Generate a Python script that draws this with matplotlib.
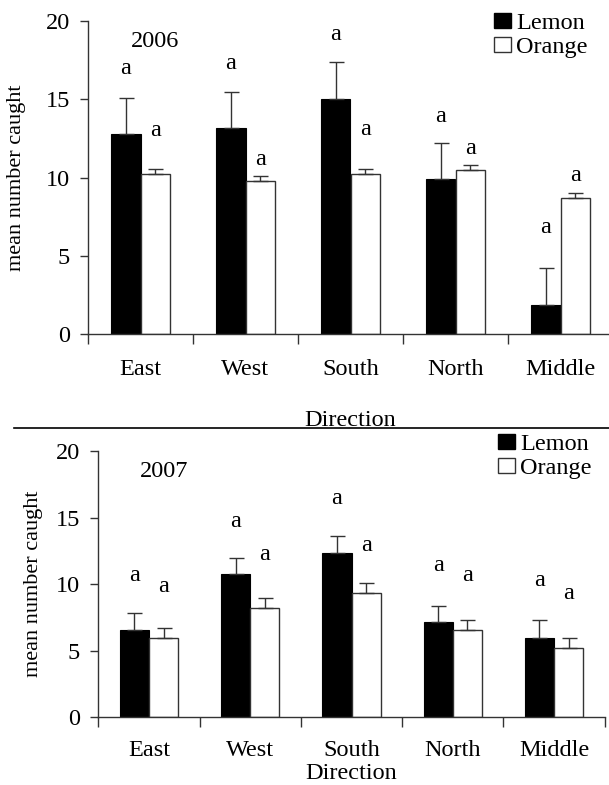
import matplotlib
matplotlib.use("Agg")
import matplotlib.pyplot as plt
import numpy as np
from matplotlib.patches import Patch
from matplotlib.lines import Line2D
from matplotlib.transforms import Bbox

plt.rcParams['font.family'] = ['Liberation Serif', 'DejaVu Serif']

directions = ["East", "West", "South", "North", "Middle"]
series = ["Lemon", "Orange"]

lemon_2006 = [12.8, 13.15, 15.0, 9.9, 1.87]
lemon_2006_err = [2.27, 2.28, 2.34, 2.3, 2.34]
orange_2006 = [10.22, 9.76, 10.22, 10.46, 8.67]
orange_2006_err = [0.3, 0.34, 0.3, 0.32, 0.32]
letters_2006_lemon = ["a", "a", "a", "a", "a"]
letters_2006_orange = ["a", "a", "a", "a", "a"]
lemon_2006_letter_y = [16.96, 17.24, 19.15, 13.92, 6.8]
orange_2006_letter_y = [13.0, 11.16, 13.03, 11.86, 10.1]

lemon_2007 = [6.59, 10.75, 12.31, 7.12, 5.99]
lemon_2007_err = [1.28, 1.2, 1.27, 1.23, 1.28]
orange_2007 = [5.99, 8.22, 9.3, 6.59, 5.21]
orange_2007_err = [0.75, 0.75, 0.75, 0.75, 0.73]
letters_2007_lemon = ["a", "a", "a", "a", "a"]
letters_2007_orange = ["a", "a", "a", "a", "a"]
lemon_2007_letter_y = [10.63, 14.69, 16.44, 11.38, 10.3]
orange_2007_letter_y = [9.8, 12.23, 12.9, 10.63, 9.3]

yticks = [0, 5, 10, 15, 20]

W, H = 609, 785
fig = plt.figure(figsize=(W / 100, H / 100), dpi=100)

FS = 17.5
EDGE = '#333333'


def px_axes(left, right, top, bottom):
    return fig.add_axes([left / W, 1 - bottom / H, (right - left) / W, (bottom - top) / H])


def panel(ax, lem, lem_e, ora, ora_e, lem_ly, ora_ly, lem_l, ora_l, year, year_x, year_y,
          bw, tick_pad, xl_y, leg_anchor):
    x = np.arange(len(directions)) + 0.5
    ax.bar(x - bw / 2, lem, bw, color='black', edgecolor='black', linewidth=0.8,
           yerr=[[0] * len(lem), lem_e], error_kw=dict(ecolor=EDGE, elinewidth=1.0, capsize=5.4, capthick=1.0),
           label=series[0], zorder=2)
    ax.bar(x + bw / 2, ora, bw, color='white', edgecolor=EDGE, linewidth=1.0,
           yerr=[[0] * len(ora), ora_e], error_kw=dict(ecolor=EDGE, elinewidth=1.0, capsize=5.4, capthick=1.0),
           label=series[1], zorder=2)
    for xi, yv, t in zip(x - bw / 2, lem_ly, lem_l):
        ax.text(xi, yv, t, ha='center', va='center', fontsize=FS)
    for xi, yv, t in zip(x + bw / 2, ora_ly, ora_l):
        ax.text(xi, yv, t, ha='center', va='center', fontsize=FS)
    ax.text(year_x, year_y, year, ha='center', va='center', fontsize=FS)

    ax.set_xlim(0, len(directions))
    ax.set_ylim(0, 20)
    ax.set_yticks(yticks)
    ax.set_yticklabels([str(v) for v in yticks], fontsize=FS)
    ax.set_xticks(x)
    ax.set_xticklabels(directions, fontsize=FS)
    ax.set_xticks(np.arange(len(directions) + 1), minor=True)
    ax.tick_params(axis='x', which='major', length=0, pad=tick_pad)
    ax.tick_params(axis='x', which='minor', length=7, width=1, direction='out', color=EDGE)
    ax.tick_params(axis='y', length=6, width=1, direction='out', color=EDGE, pad=7)
    for s in ['top', 'right']:
        ax.spines[s].set_visible(False)
    for s in ['left', 'bottom']:
        ax.spines[s].set_color(EDGE)
        ax.spines[s].set_linewidth(1.0)
    ax.set_xlabel('Direction', fontsize=FS)
    ax.xaxis.set_label_coords(0.5, xl_y)
    ax.set_ylabel('mean number caught', fontsize=16)

    handles = [Patch(facecolor='black', edgecolor='black', label=series[0]),
               Patch(facecolor='white', edgecolor=EDGE, label=series[1])]
    fig.legend(handles=handles, loc='upper left', bbox_to_anchor=leg_anchor,
               bbox_transform=fig.transFigure, frameon=False, fontsize=FS,
               handlelength=0.7, handleheight=0.56, handletextpad=0.2,
               labelspacing=0.12, borderpad=0, borderaxespad=0)
    return ax


ax1 = px_axes(88, 613, 20.7, 334.3)
panel(ax1, lemon_2006, lemon_2006_err, orange_2006, orange_2006_err,
      lemon_2006_letter_y, orange_2006_letter_y, letters_2006_lemon, letters_2006_orange,
      "2006", 0.635, 18.66, 0.2857, 17.5, -0.241, (494 / W, 1 - 13 / H))
ax1.yaxis.set_label_coords(-0.118, 0.5)

ax2 = px_axes(98.3, 604.7, 451, 717.3)
panel(ax2, lemon_2007, lemon_2007_err, orange_2007, orange_2007_err,
      lemon_2007_letter_y, orange_2007_letter_y, letters_2007_lemon, letters_2007_orange,
      "2007", 0.653, 18.45, 0.289, 16.5, -0.2317, (498 / W, 1 - 434 / H))
ax2.yaxis.set_label_coords(-0.11, 0.5)
ax2.xaxis.label.set_verticalalignment('baseline')

# clip the upper "Direction" label at the separator line
lab = ax1.xaxis.label
lab.set_clip_on(True)
lab.set_clip_box(Bbox([[0, H - 427.5], [W, H]]))

fig.add_artist(Line2D([14 / W, 1], [1 - 428.3 / H, 1 - 428.3 / H], transform=fig.transFigure,
                      color='black', linewidth=1.2))

fig.savefig('out.png', dpi=100)
